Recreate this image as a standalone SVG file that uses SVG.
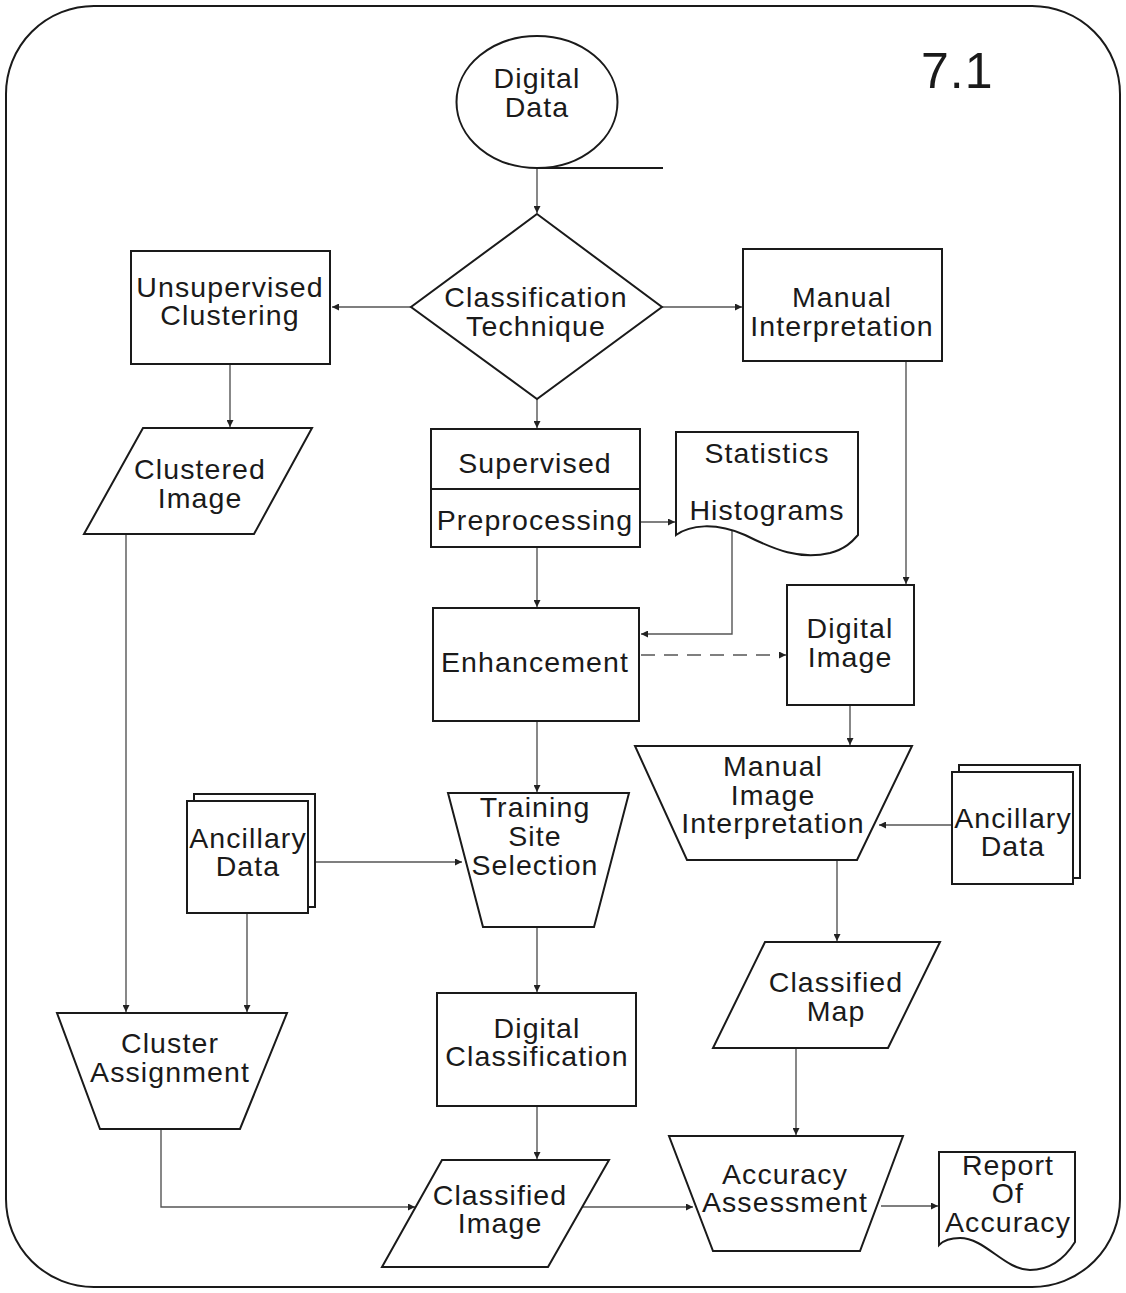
<svg xmlns="http://www.w3.org/2000/svg" width="1126" height="1293" viewBox="0 0 1126 1293">
<style>
.s{fill:#fff;stroke:#1a1a1a;stroke-width:2;stroke-linejoin:miter}
.c{fill:none;stroke:#555;stroke-width:1.4}
.d{stroke-dasharray:14 9}
text{font-family:"Liberation Sans",Arial,sans-serif;font-size:28.5px;letter-spacing:1.1px;fill:#1a1a1a;text-anchor:middle}
.big{font-size:50px;letter-spacing:1px;text-anchor:start}
</style>
<defs>
<marker id="a" viewBox="0 0 10 10" refX="10" refY="5" markerWidth="9" markerHeight="7" markerUnits="userSpaceOnUse" orient="auto">
<path d="M0,0 L10,5 L0,10 z" fill="#222"/>
</marker>
</defs>
<rect x="6" y="6" width="1114" height="1281" rx="88" ry="88" fill="#fff" stroke="#1a1a1a" stroke-width="2"/>
<text class="big" x="921" y="88">7.1</text>

<g id="connectors">
<path class="c" marker-end="url(#a)" d="M537,168 V213"/>
<path class="c" marker-end="url(#a)" d="M411,307 H332"/>
<path class="c" marker-end="url(#a)" d="M662,307 H742"/>
<path class="c" marker-end="url(#a)" d="M230,364 V427"/>
<path class="c" marker-end="url(#a)" d="M537,399 V428"/>
<path class="c" marker-end="url(#a)" d="M640,522 H675"/>
<path class="c" marker-end="url(#a)" d="M732,530 V634 H641"/>
<path class="c" marker-end="url(#a)" d="M537,547 V607"/>
<path class="c d" marker-end="url(#a)" d="M641,655 H786"/>
<path class="c" marker-end="url(#a)" d="M906,361 V584"/>
<path class="c" marker-end="url(#a)" d="M850,705 V745"/>
<path class="c" marker-end="url(#a)" d="M952,825 H879"/>
<path class="c" marker-end="url(#a)" d="M837,860 V941"/>
<path class="c" marker-end="url(#a)" d="M796,1048 V1135"/>
<path class="c" marker-end="url(#a)" d="M881,1206 H938"/>
<path class="c" marker-end="url(#a)" d="M315,862 H462"/>
<path class="c" marker-end="url(#a)" d="M537,721 V792"/>
<path class="c" marker-end="url(#a)" d="M247,913 V1012"/>
<path class="c" marker-end="url(#a)" d="M126,534 V1012"/>
<path class="c" marker-end="url(#a)" d="M161,1129 V1207 H415"/>
<path class="c" marker-end="url(#a)" d="M537,927 V992"/>
<path class="c" marker-end="url(#a)" d="M537,1106 V1159"/>
<path class="c" marker-end="url(#a)" d="M582,1207 H693"/>
</g>

<g id="digital-data">
<ellipse class="s" cx="537" cy="102" rx="80.5" ry="66"/>
<path d="M537,168 H663" stroke="#1a1a1a" stroke-width="2" fill="none"/>
<text x="537" y="88">Digital</text>
<text x="537" y="117">Data</text>
</g>

<g id="classification-technique">
<path class="s" d="M537,214 L662,307 L537,399 L411,307 Z"/>
<text x="536" y="307">Classification</text>
<text x="536" y="336">Technique</text>
</g>

<g id="unsupervised-clustering">
<rect class="s" x="131" y="251" width="199" height="113"/>
<text x="230" y="297">Unsupervised</text>
<text x="230" y="325">Clustering</text>
</g>

<g id="manual-interpretation">
<rect class="s" x="743" y="249" width="199" height="112"/>
<text x="842" y="307">Manual</text>
<text x="842" y="336">Interpretation</text>
</g>

<g id="clustered-image">
<path class="s" d="M143,428 L312,428 L254,534 L84,534 Z"/>
<text x="200" y="479">Clustered</text>
<text x="200" y="508">Image</text>
</g>

<g id="supervised-preprocessing">
<rect class="s" x="431" y="429" width="209" height="118"/>
<path class="s" d="M431,489 H640"/>
<text x="535" y="473">Supervised</text>
<text x="535" y="530">Preprocessing</text>
</g>

<g id="statistics-histograms">
<path class="s" d="M676,432 H858 V535 C852,542 845,549 830,553 C800,560 775,550 745,535 C715,522 690,525 676,535 Z"/>
<text x="767" y="463">Statistics</text>
<text x="767" y="520">Histograms</text>
</g>

<g id="enhancement">
<rect class="s" x="433" y="608" width="206" height="113"/>
<text x="535" y="672">Enhancement</text>
</g>

<g id="digital-image">
<rect class="s" x="787" y="585" width="127" height="120"/>
<text x="850" y="638">Digital</text>
<text x="850" y="667">Image</text>
</g>

<g id="manual-image-interpretation">
<path class="s" d="M635,746 L912,746 L857,860 L687,860 Z"/>
<text x="773" y="776">Manual</text>
<text x="773" y="805">Image</text>
<text x="773" y="833">Interpretation</text>
</g>

<g id="ancillary-data-right">
<rect class="s" x="959" y="765" width="121" height="113"/>
<rect class="s" x="952" y="772" width="121" height="112"/>
<text x="1013" y="828">Ancillary</text>
<text x="1013" y="856">Data</text>
</g>

<g id="classified-map">
<path class="s" d="M765,942 L940,942 L888,1048 L713,1048 Z"/>
<text x="836" y="992">Classified</text>
<text x="836" y="1021">Map</text>
</g>

<g id="accuracy-assessment">
<path class="s" d="M669,1136 L903,1136 L860,1251 L713,1251 Z"/>
<text x="785" y="1184">Accuracy</text>
<text x="785" y="1212">Assessment</text>
</g>

<g id="report-of-accuracy">
<path class="s" d="M939,1152 H1075 V1242 C1065,1258 1050,1270 1030,1270 C1005,1270 985,1238 960,1238 C950,1238 943,1241 939,1245 Z"/>
<text x="1008" y="1175">Report</text>
<text x="1008" y="1203">Of</text>
<text x="1008" y="1232">Accuracy</text>
</g>

<g id="ancillary-data-left">
<rect class="s" x="194" y="794" width="121" height="113"/>
<rect class="s" x="187" y="801" width="121" height="112"/>
<text x="248" y="848">Ancillary</text>
<text x="248" y="876">Data</text>
</g>

<g id="training-site-selection">
<path class="s" d="M448,793 L629,793 L594,927 L483,927 Z"/>
<text x="535" y="817">Training</text>
<text x="535" y="846">Site</text>
<text x="535" y="875">Selection</text>
</g>

<g id="cluster-assignment">
<path class="s" d="M57,1013 L287,1013 L240,1129 L100,1129 Z"/>
<text x="170" y="1053">Cluster</text>
<text x="170" y="1082">Assignment</text>
</g>

<g id="digital-classification">
<rect class="s" x="437" y="993" width="199" height="113"/>
<text x="537" y="1038">Digital</text>
<text x="537" y="1066">Classification</text>
</g>

<g id="classified-image">
<path class="s" d="M442,1160 L609,1160 L548,1267 L382,1267 Z"/>
<text x="500" y="1205">Classified</text>
<text x="500" y="1233">Image</text>
</g>
</svg>
